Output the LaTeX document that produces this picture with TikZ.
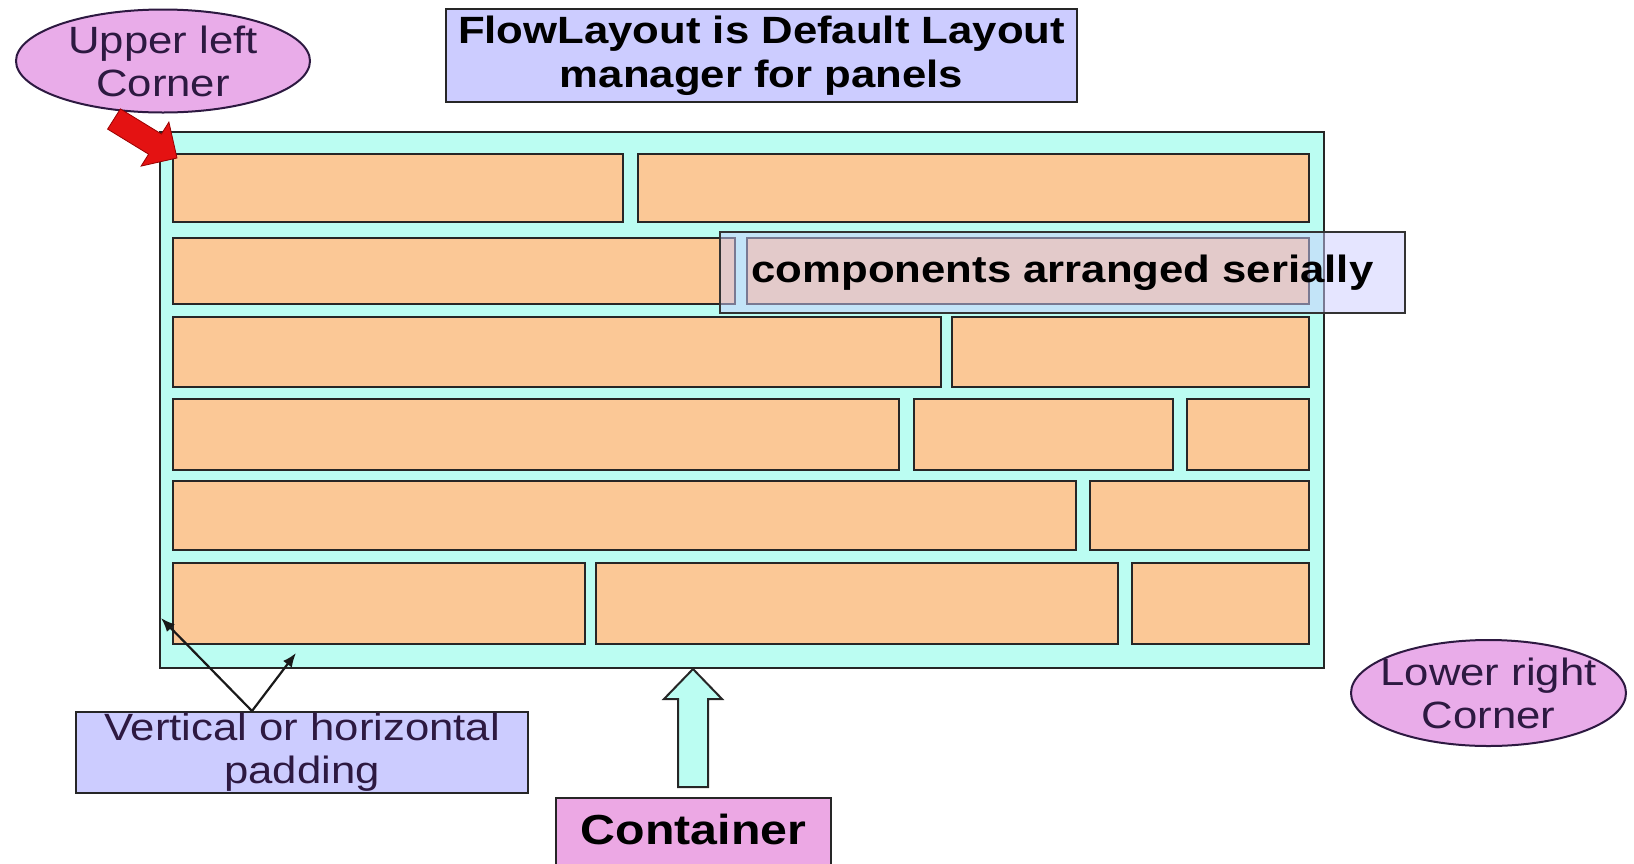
\documentclass[tikz,border=0pt]{standalone}
\usepackage{fontspec}
\setmainfont{Liberation Sans}[FakeStretch=1.15]
\usetikzlibrary{arrows.meta,calc}
\definecolor{cyanbg}{RGB}{187,253,242}
\definecolor{orangebk}{RGB}{251,200,150}
\definecolor{lav}{RGB}{204,204,255}
\definecolor{pinkel}{RGB}{233,172,233}
\definecolor{pinkbox}{RGB}{236,168,228}
\definecolor{txtdark}{RGB}{45,25,65}
\definecolor{redarrow}{RGB}{228,18,18}
\begin{document}
\begin{tikzpicture}[x=1pt,y=-1pt,
  contbox/.style={draw=black!85, line width=2pt, fill=cyanbg, inner sep=0pt, anchor=north west},
  blk/.style={draw=black!85, line width=2.6pt, fill=orangebk},
  titlebox/.style={draw=black!85, line width=2pt, fill=lav, align=center, inner sep=0pt,
     font=\bfseries\fontsize{38}{44}\selectfont},
  serbox/.style={draw=black!80, line width=2pt, fill=lav, fill opacity=0.5, text opacity=1,
     inner sep=0pt, font=\bfseries\fontsize{38}{44}\selectfont},
  padbox/.style={draw=black!85, line width=2pt, fill=lav, align=center, inner sep=0pt,
     text=txtdark, font=\fontsize{38}{43}\selectfont},
  ellfill/.style={draw=txtdark, line width=2pt, fill=pinkel},
  elltext/.style={align=center, inner sep=0pt, text=txtdark, font=\fontsize{38}{43}\selectfont},
  conbox/.style={draw=black!85, line width=2pt, fill=pinkbox, inner sep=0pt},
  context/.style={inner sep=0pt, font=\bfseries\fontsize{42}{46}\selectfont},
  thinarrow/.style={draw=black!90, line width=2.2pt, -{Latex[length=14pt,width=11pt]}},
  blockarrow/.style={draw=black!85, line width=2pt, fill=cyanbg},
  redblock/.style={draw=red!60!black, line width=0.8pt, fill=redarrow}
]
\useasboundingbox (0,0) rectangle (1634,863);

% container
\node[contbox, minimum width=1164pt, minimum height=536pt] (cont) at (159,131) {};

% row 1
\draw[blk] (173,154) rectangle (623,222);
\draw[blk] (638,154) rectangle (1309,222);
% row 2
\draw[blk] (173,238) rectangle (735,304);
\draw[blk] (747,238) rectangle (1309,304);
% row 3
\draw[blk] (173,317) rectangle (941,387);
\draw[blk] (952,317) rectangle (1309,387);
% row 4
\draw[blk] (173,399) rectangle (899,470);
\draw[blk] (914,399) rectangle (1173,470);
\draw[blk] (1187,399) rectangle (1309,470);
% row 5
\draw[blk] (173,481) rectangle (1076,550);
\draw[blk] (1090,481) rectangle (1309,550);
% row 6
\draw[blk] (173,563) rectangle (585,644);
\draw[blk] (596,563) rectangle (1118,644);
\draw[blk] (1132,563) rectangle (1309,644);

% label over the blocks
\node[serbox, minimum width=685pt, minimum height=81pt] (ser) at (1062.5,272.5) {components arranged serially};

% title
\node[titlebox, minimum width=631pt, minimum height=93pt] (title) at (761.5,55.5)
  {FlowLayout is Default Layout\\manager for panels};

% ellipses
\draw[ellfill] (163,61) ellipse [x radius=147, y radius=51.5];
\node[elltext] (ul) at (163,61) {Upper left\\Corner};
\draw[ellfill] (1488.5,693) ellipse [x radius=137.5, y radius=53];
\node[elltext] (lr) at (1488.5,693) {Lower right\\Corner};

% red arrow to upper-left corner
\coordinate (redtip) at (177,158);
\draw[redblock] (120.4,108.9) -- (161.4,134.0) -- (168.9,122.1) -- (redtip)
  -- (141.1,166.1) -- (148.6,154.2) -- (107.6,129.1) -- cycle;

% padding label and arrows
\node[padbox, minimum width=452pt, minimum height=81pt] (pad) at (302,752.5)
  {Vertical or horizontal\\padding};
\coordinate (padtop) at (252,711);
\coordinate (padv) at (161,618);
\coordinate (padh) at (296,653);
\draw[thinarrow] (padtop) -- (padv);
\draw[thinarrow] (padtop) -- (padh);

% container label and block arrow
\node[conbox, minimum width=275pt, minimum height=72pt, anchor=north] (clabel) at (693.5,797) {};
\node[context] (ctext) at (693.5,829) {Container};
\draw[blockarrow] (678,787) -- (678,699) -- (664,699) -- (693,669) -- (722,699)
  -- (708,699) -- (708,787) -- cycle;
\end{tikzpicture}
\end{document}
